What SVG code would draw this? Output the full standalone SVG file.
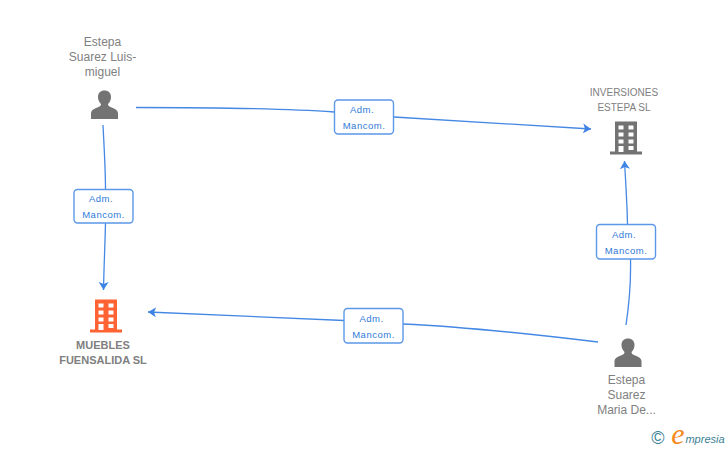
<svg xmlns="http://www.w3.org/2000/svg" width="728" height="450" viewBox="0 0 728 450">
<style>
text{font-family:"Liberation Sans",Arial,sans-serif;text-anchor:middle}
.n{font-size:12px;fill:#808080}
.u{font-size:10px;fill:#808080}
.b{font-size:11px;fill:#808080;font-weight:bold}
.l{font-size:9.5px;fill:#2f7ad8;letter-spacing:.5px}
.c{fill:none;stroke:#4488e4;stroke-width:1.3}
.box{fill:#fff;stroke:#5b98e8;stroke-width:1.4}
.g{fill:#737373}
.o{fill:#ff6333}
</style>
<defs>
<marker id="a" markerUnits="userSpaceOnUse" markerWidth="11" markerHeight="12" refX="8" refY="5.500" orient="auto"><path d="M0 0.500L8 5.500L0 10.500L2 5.500Z" fill="#3f84e4"/></marker>
<g id="person"><path d="M-13.500 18V12.500C-13.500 9 -10 7.500 -6.500 6.200C-4 5.300 -3.500 4 -3.500 3C-5.500 1.200 -6.500 -1.500 -6.500 -4C-6.500 -8 -4 -10.500 0 -10.500C4 -10.500 6.500 -8 6.500 -4C6.500 -1.500 5.500 1.200 3.500 3C3.500 4 4 5.300 6.500 6.200C10 7.500 13.500 9 13.500 12.500V18Z" fill="#737373"/></g>
<g id="building"><path fill-rule="evenodd" d="M-11 -16.500H11V13.500H16V16.500H-16V13.500H-11ZM-7.500 -12.500V-8.500H-2.500V-12.500ZM2.500 -12.500V-8.500H7.500V-12.500ZM-7.500 -5.500V-1.500H-2.500V-5.500ZM2.500 -5.500V-1.500H7.500V-5.500ZM-7.500 1.500V5.500H-2.500V1.500ZM2.500 1.500V5.500H7.500V1.500ZM-7.500 8V14H-2.500V8ZM2.500 8V12H7.500V8Z"/></g>
</defs>
<g id="connectors">
<path class="c" marker-end="url(#a)" d="M136 107.500C210 107.500 280 108 334 112M394 117L591 129"/>
<path class="c" marker-end="url(#a)" d="M103 125C104 145 105.500 170 105.500 189M105.500 223C105 245 104 265 103.500 290"/>
<path class="c" marker-end="url(#a)" d="M598 342C540 335 470 327 403 324M344 320.500L148 312"/>
<path class="c" marker-end="url(#a)" d="M626 325C629 305 631 280 630.500 259M627.500 224C627 200 625.500 180 624.500 161"/>
</g>
<g id="edge-label-1"><rect class="box" x="334.500" y="100" width="59" height="34" rx="3.500"/><text class="l" x="362" y="113">Adm.</text><text class="l" x="364" y="128.500">Mancom.</text></g>
<g id="edge-label-2"><rect class="box" x="74" y="189.500" width="59" height="33.500" rx="3.500"/><text class="l" x="101" y="202">Adm.</text><text class="l" x="103.500" y="217.500">Mancom.</text></g>
<g id="edge-label-3"><rect class="box" x="344" y="308.500" width="59" height="34.500" rx="3.500"/><text class="l" x="371.500" y="322">Adm.</text><text class="l" x="373.500" y="337.500">Mancom.</text></g>
<g id="edge-label-4"><rect class="box" x="596.500" y="224.500" width="59" height="34.500" rx="3.500"/><text class="l" x="624" y="238">Adm.</text><text class="l" x="626" y="253.500">Mancom.</text></g>
<g id="node-estepa-luis">
<text class="n" x="102.500" y="46">Estepa</text><text class="n" x="102.500" y="61">Suarez Luis-</text><text class="n" x="102.500" y="76">miguel</text>
<use href="#person" x="104.500" y="101"/>
</g>
<g id="node-inversiones">
<text class="u" x="624" y="96">INVERSIONES</text><text class="u" x="624" y="111">ESTEPA SL</text>
<use href="#building" class="g" x="626" y="138"/>
</g>
<g id="node-muebles">
<use href="#building" class="o" x="106" y="316"/>
<text class="b" x="103" y="349">MUEBLES</text><text class="b" x="103" y="364">FUENSALIDA SL</text>
</g>
<g id="node-estepa-maria">
<use href="#person" x="628" y="349"/>
<text class="n" x="626.500" y="384">Estepa</text><text class="n" x="626.500" y="399">Suarez</text><text class="n" x="626.500" y="414">Maria De...</text>
</g>
<g id="watermark">
<text x="658" y="444" style="font-size:18px;fill:#3c7f94">©</text>
<text x="678" y="444" style="font-size:30px;fill:#f58a1f;font-family:'Liberation Serif',serif;font-style:italic">e</text>
<text x="705" y="443" style="font-size:11px;fill:#3c7f94;font-style:italic">mpresia</text>
</g>
</svg>
